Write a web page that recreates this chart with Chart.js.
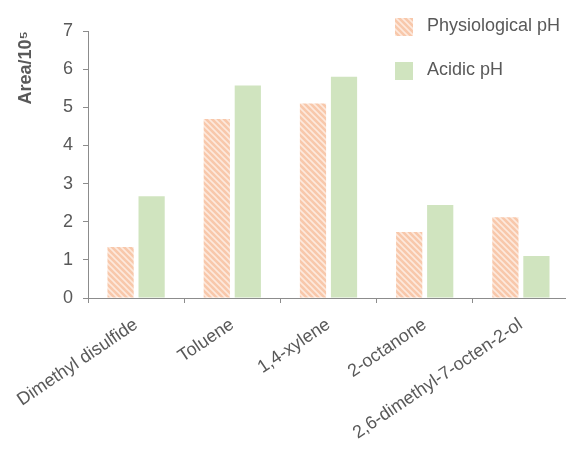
<!DOCTYPE html>
<html>
<head>
<meta charset="utf-8">
<script src="https://cdn.jsdelivr.net/npm/chart.js@4/dist/chart.umd.min.js"></script>
<style>
  html, body { margin: 0; padding: 0; background: #ffffff; overflow: hidden; }
  #wrap { width: 566px; height: 450px; position: relative; overflow: hidden; }
</style>
</head>
<body>
<div id="wrap"><canvas id="chart" width="569" height="450"></canvas></div>
<script>
// Compounds measured
const categories = ['Dimethyl disulfide', 'Toluene', '1,4-xylene', '2-octanone', '2,6-dimethyl-7-octen-2-ol'];
// Peak areas (x 10^5)
const physiologicalPH = [1.34, 4.69, 5.10, 1.73, 2.12];
const acidicPH = [2.67, 5.57, 5.80, 2.44, 1.10];
const seriesNames = ['Physiological pH', 'Acidic pH'];
const yTicks = [0, 1, 2, 3, 4, 5, 6, 7];

const FONT = "'Liberation Sans', Arial, sans-serif";
const TEXT = '#595959';
const AXIS = '#8c8c8c';
const SALMON = '#f8c8ab';
const SALMON_LIGHT = '#fde9dd';
const GREEN = '#d0e4bf';

// Diagonal-stripe fill for the physiological series
function makeHatch() {
  const s = 6;
  const c = document.createElement('canvas');
  c.width = s; c.height = s;
  const g = c.getContext('2d');
  g.fillStyle = SALMON;
  g.fillRect(0, 0, s, s);
  g.strokeStyle = SALMON_LIGHT;
  g.lineWidth = 1.6;
  g.beginPath();
  g.moveTo(-1, -1); g.lineTo(s + 1, s + 1);
  g.moveTo(-1, s - 1); g.lineTo(1, s + 1);
  g.moveTo(s - 1, -1); g.lineTo(s + 1, 1);
  g.stroke();
  return g.createPattern(c, 'repeat');
}

const ctx = document.getElementById('chart').getContext('2d');
const hatch = makeHatch();

// Vertical legend in the upper right corner
const cornerLegend = {
  id: 'cornerLegend',
  afterDraw(chart) {
    const c = chart.ctx;
    const x0 = 395, box = 18, gap = 14, rows = [18, 62];
    c.save();
    c.font = '18px ' + FONT;
    c.textBaseline = 'middle';
    c.textAlign = 'left';
    chart.data.datasets.forEach((ds, i) => {
      const y = rows[i];
      c.fillStyle = ds.backgroundColor;
      c.fillRect(x0, y, box, box);
      c.fillStyle = TEXT;
      c.fillText(ds.label, x0 + box + gap, y + box / 2 - 1);
    });
    c.restore();
  }
};

new Chart(ctx, {
  type: 'bar',
  data: {
    labels: categories,
    datasets: [
      { label: seriesNames[0], data: physiologicalPH, backgroundColor: hatch },
      { label: seriesNames[1], data: acidicPH, backgroundColor: GREEN }
    ]
  },
  options: {
    responsive: false,
    animation: false,
    layout: { padding: { top: 31, right: 0, left: 0, bottom: 0 } },
    datasets: { bar: { categoryPercentage: 0.645, barPercentage: 0.845, borderWidth: 0 } },
    plugins: { legend: { display: false }, tooltip: { enabled: false } },
    scales: {
      x: {
        offset: true,
        grid: { offset: true, drawOnChartArea: false, drawTicks: true, tickLength: 5, color: AXIS },
        border: { display: true, color: AXIS, width: 1 },
        ticks: {
          color: TEXT, font: { family: FONT, size: 18 },
          minRotation: 34, maxRotation: 34, padding: 11, autoSkip: false
        },
        afterFit(scale) { scale.height = 152; scale.paddingLeft = 0; scale.paddingRight = 0; }
      },
      y: {
        min: 0, max: 7,
        afterBuildTicks(scale) { scale.ticks = yTicks.map(v => ({ value: v })); },
        grid: { drawOnChartArea: false, drawTicks: true, tickLength: 5, color: AXIS },
        border: { display: true, color: AXIS, width: 1 },
        ticks: { color: TEXT, font: { family: FONT, size: 18 }, padding: 10 },
        title: {
          display: true, text: 'Area/10\u2075', align: 'end',
          color: TEXT, font: { family: FONT, size: 18, weight: 'bold' },
          padding: { top: 15, bottom: 0 }
        },
        afterFit(scale) { scale.width = 88; }
      }
    }
  },
  plugins: [cornerLegend]
});
</script>
</body>
</html>
